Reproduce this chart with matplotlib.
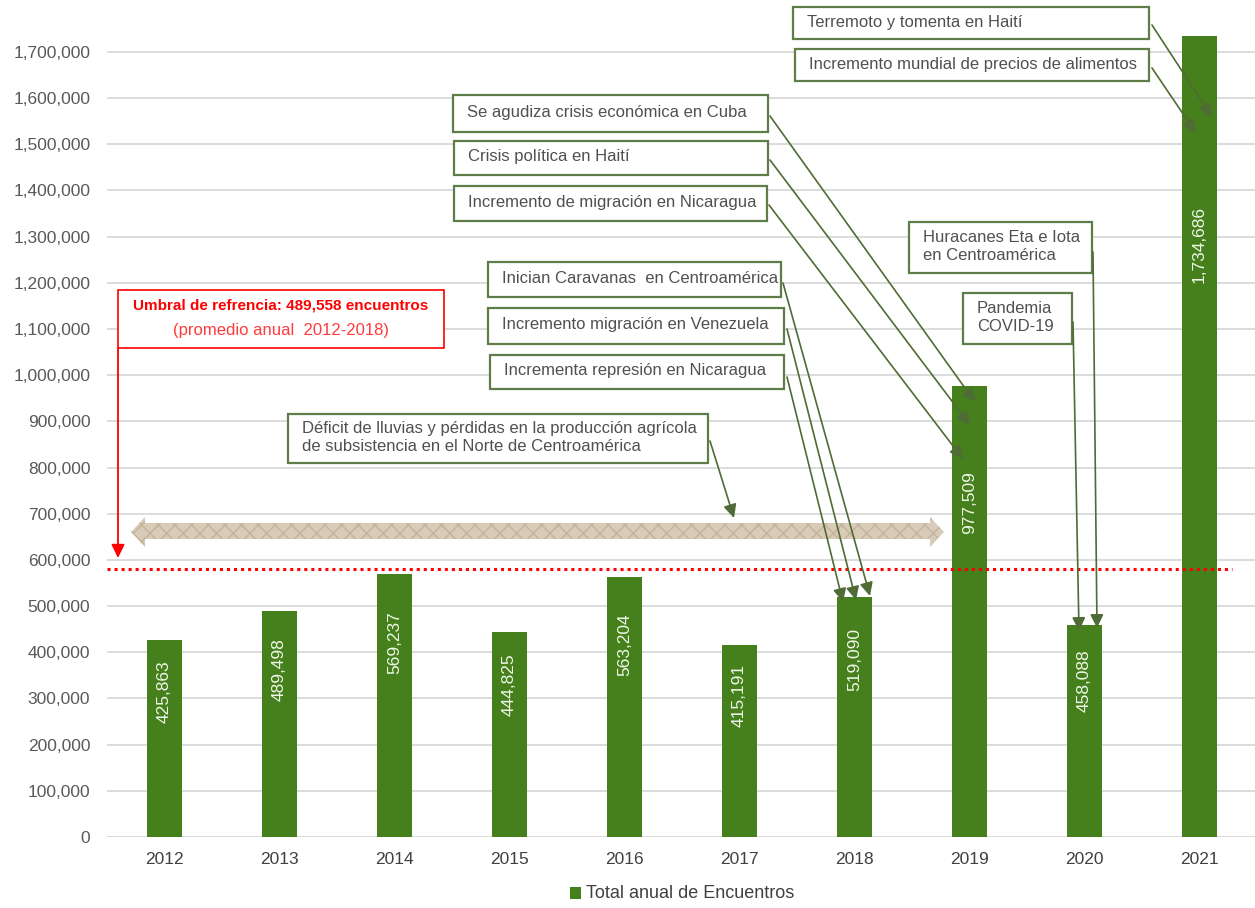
import matplotlib
matplotlib.use('Agg')
import matplotlib.pyplot as plt
import matplotlib.transforms as mtransforms
from matplotlib.patches import Rectangle, Polygon, FancyArrowPatch
from matplotlib.ticker import FuncFormatter

# ---------------- data ----------------
years = ['2012', '2013', '2014', '2015', '2016', '2017', '2018', '2019', '2020', '2021']
encuentros = [425863, 489498, 569237, 444825, 563204, 415191, 519090, 977509, 458088, 1734686]
threshold_value = 580000          # where the red dotted reference line is drawn
y_ticks = list(range(0, 1700001, 100000))
legend_label = 'Total anual de Encuentros'
threshold_title = 'Umbral de refrencia: 489,558 encuentros'
threshold_sub = '(promedio anual  2012-2018)'
events = [
    'Terremoto y tomenta en Haití',
    'Incremento mundial de precios de alimentos',
    'Se agudiza crisis económica en Cuba',
    'Crisis política en Haití',
    'Incremento de migración en Nicaragua',
    'Inician Caravanas  en Centroamérica',
    'Incremento migración en Venezuela',
    'Incrementa represión en Nicaragua',
    'Huracanes Eta e Iota\nen Centroamérica',
    'Pandemia\nCOVID-19',
    'Déficit de lluvias y pérdidas en la producción agrícola\nde subsistencia en el Norte de Centroamérica',
]

# ---------------- style ----------------
plt.rcParams['font.family'] = ['Liberation Sans', 'DejaVu Sans']
BAR = '#46801c'
BOX_EDGE = '#5f7d47'
ARROW = '#4f6b36'
TXT = '#505050'

W, H = 1255, 908
fig = plt.figure(figsize=(W / 100, H / 100), dpi=100)
ymax = 1800000
px_per_unit = 46.18 / 100000
ax_h = ymax * px_per_unit
ax = fig.add_axes([107 / W, 1 - 837 / H, (1257 - 107) / W, ax_h / H])

x = list(range(len(years)))
ax.bar(x, encuentros, width=0.31, color=BAR, zorder=3)
ax.set_xlim(-0.5, 9.5)
ax.set_ylim(0, ymax)
ax.set_yticks(y_ticks)
ax.yaxis.set_major_formatter(FuncFormatter(lambda v, p: f'{int(v):,}'))
ax.set_xticks(x)
ax.set_xticklabels(years)
ax.tick_params(axis='y', length=0, pad=12, labelsize=12.5, labelcolor='#595959')
ax.tick_params(axis='x', length=0, pad=11, labelsize=12.5, labelcolor='#404040')
ax.yaxis.grid(True, color='#d9d9d9', lw=1.3, zorder=0)
ax.set_axisbelow(True)
for s in ax.spines.values():
    s.set_visible(False)

# value labels inside bars
for xi, v in zip(x, encuentros):
    ax.text(xi, v * 0.74, f'{v:,}', rotation=90, ha='center', va='center',
            color='#eef7e8', fontsize=12.5, zorder=4)

# red dotted threshold line
ax.hlines(threshold_value, -0.5, 9.28, colors='#ff0000', linestyles=(0, (1, 1.3)),
          lw=2.2, zorder=5)

# pixel transform (origin top-left) for annotation layout
PX = mtransforms.Affine2D().scale(1 / W, -1 / H).translate(0, 1) + fig.transFigure

# tan double arrow (drought period)
shaft_t, shaft_b = 523, 539
head_t, head_b = 517, 547
xl, xr = 131, 944
hl = 14
poly = [(xl, 532), (xl + hl, head_t), (xl + hl, shaft_t), (xr - hl, shaft_t), (xr - hl, head_t),
        (xr, 532), (xr - hl, head_b), (xr - hl, shaft_b), (xl + hl, shaft_b), (xl + hl, head_b)]
fig.patches.append(Polygon(poly, closed=True, transform=PX, facecolor='#d8ccb8',
                           edgecolor='#c2b39b', lw=0, hatch='xx', zorder=2))

# red reference box + arrow
fig.patches.append(Rectangle((118, 290), 326, 58, transform=PX, facecolor='white',
                             edgecolor='#ff0000', lw=1.2, zorder=6))
fig.text(281, 305, threshold_title, transform=PX, ha='center', va='center',
         color='#ff0000', fontsize=11, fontweight='bold', zorder=7)
fig.text(281, 330, threshold_sub, transform=PX, ha='center', va='center',
         color='#ff3b3b', fontsize=12, zorder=7)
fig.add_artist(FancyArrowPatch(
    (118, 348), (118, 558), transform=PX, arrowstyle='-|>,head_length=0.45,head_width=0.22',
    mutation_scale=18, color='#ff0000', lw=1.3, shrinkA=0, shrinkB=0, zorder=6))

# event boxes: (box left, top, right, bottom), arrow start, arrow tip  (pixels)
layout = [
    ((793, 7, 1149, 39), (1152, 25), (1212, 117)),
    ((795, 49, 1149, 81), (1152, 68), (1196, 133)),
    ((453, 95, 768, 132), (770, 116), (975, 402)),
    ((454, 141, 768, 175), (770, 160), (970, 425)),
    ((454, 186, 767, 221), (769, 205), (963, 459)),
    ((488, 262, 781, 297), (783, 283), (870, 596)),
    ((488, 308, 784, 344), (787, 329), (856, 600)),
    ((490, 355, 784, 389), (787, 377), (843, 602)),
    ((909, 222, 1092, 273), (1093, 252), (1097, 628)),
    ((963, 293, 1072, 344), (1073, 322), (1079, 631)),
    ((288, 414, 708, 463), (710, 441), (734, 518)),
]
for label, (box, start, tip) in zip(events, layout):
    l, t, r, b = box
    fig.patches.append(Rectangle((l, b), r - l, t - b, transform=PX, facecolor='white',
                                 edgecolor=BOX_EDGE, lw=1.6, zorder=6))
    fig.text(l + 14, (t + b) / 2 - 1, label, transform=PX, ha='left', va='center',
             color=TXT, fontsize=12, linespacing=1.3, zorder=7)
    fig.add_artist(FancyArrowPatch(
        start, tip, transform=PX, arrowstyle='-|>,head_length=0.45,head_width=0.22',
        mutation_scale=18, color=ARROW, lw=1.2, shrinkA=0, shrinkB=0, zorder=8))

# legend
fig.patches.append(Rectangle((570, 887), 11, 12, transform=PX, facecolor=BAR,
                             edgecolor='none', zorder=6))
fig.text(586, 894, legend_label, transform=PX, ha='left', va='center',
         color='#404040', fontsize=13)

fig.savefig('out.png', dpi=100)
